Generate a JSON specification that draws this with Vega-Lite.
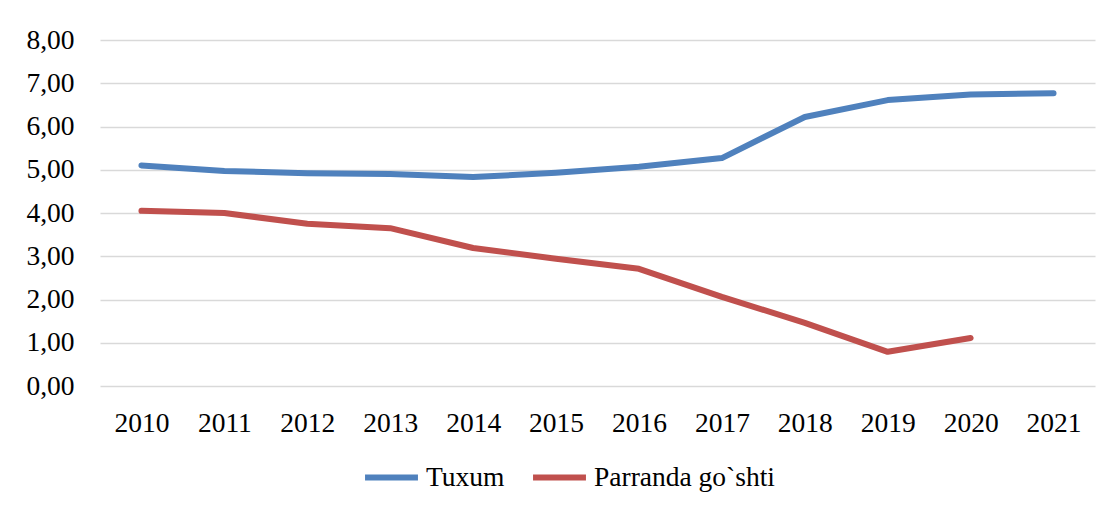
{
  "$schema": "https://vega.github.io/schema/vega-lite/v6.json",
  "width": 995,
  "height": 346,
  "autosize": {"type": "none"},
  "padding": {"left": 100, "top": 40, "right": 15, "bottom": 123},
  "background": "white",
  "config": {
    "view": {"stroke": null},
    "font": "Liberation Serif",
    "axis": {"labelFont": "Liberation Serif", "labelFontSize": 27.5, "labelColor": "#000000"},
    "legend": {"labelFont": "Liberation Serif", "labelFontSize": 27.5, "labelColor": "#000000"}
  },
  "data": {
    "values": [
      {"year": "2010", "series": "Tuxum", "value": 5.10},
      {"year": "2011", "series": "Tuxum", "value": 4.97},
      {"year": "2012", "series": "Tuxum", "value": 4.92},
      {"year": "2013", "series": "Tuxum", "value": 4.90},
      {"year": "2014", "series": "Tuxum", "value": 4.83},
      {"year": "2015", "series": "Tuxum", "value": 4.93},
      {"year": "2016", "series": "Tuxum", "value": 5.07},
      {"year": "2017", "series": "Tuxum", "value": 5.27},
      {"year": "2018", "series": "Tuxum", "value": 6.22},
      {"year": "2019", "series": "Tuxum", "value": 6.61},
      {"year": "2020", "series": "Tuxum", "value": 6.74},
      {"year": "2021", "series": "Tuxum", "value": 6.77},
      {"year": "2010", "series": "Parranda go`shti", "value": 4.05},
      {"year": "2011", "series": "Parranda go`shti", "value": 4.00},
      {"year": "2012", "series": "Parranda go`shti", "value": 3.75},
      {"year": "2013", "series": "Parranda go`shti", "value": 3.65},
      {"year": "2014", "series": "Parranda go`shti", "value": 3.19},
      {"year": "2015", "series": "Parranda go`shti", "value": 2.94},
      {"year": "2016", "series": "Parranda go`shti", "value": 2.71},
      {"year": "2017", "series": "Parranda go`shti", "value": 2.06},
      {"year": "2018", "series": "Parranda go`shti", "value": 1.46},
      {"year": "2019", "series": "Parranda go`shti", "value": 0.79},
      {"year": "2020", "series": "Parranda go`shti", "value": 1.11}
    ]
  },
  "mark": {"type": "line", "strokeWidth": 6, "strokeCap": "round", "strokeJoin": "round"},
  "encoding": {
    "x": {
      "field": "year", "type": "ordinal",
      "scale": {"type": "point", "padding": 0.5},
      "axis": {"title": null, "domain": false, "ticks": false, "labelAngle": 0, "labelPadding": 23, "grid": false, "labelOverlap": false}
    },
    "y": {
      "field": "value", "type": "quantitative",
      "scale": {"domain": [0, 8], "nice": false},
      "axis": {
        "title": null, "domain": false, "ticks": false, "values": [0,1,2,3,4,5,6,7,8],
        "labelPadding": 26, "grid": true, "gridColor": "#D9D9D9", "gridWidth": 1.5, "labelOverlap": false,
        "labelExpr": "replace(format(datum.value, '.2f'), '.', ',')"
      }
    },
    "color": {
      "field": "series", "type": "nominal",
      "scale": {"domain": ["Tuxum", "Parranda go`shti"], "range": ["#4F81BD", "#C0504D"]},
      "legend": {
        "title": null, "orient": "none", "legendX": 262, "legendY": 408, "direction": "horizontal",
        "symbolType": "stroke", "symbolSize": 2800, "symbolStrokeWidth": 6,
        "labelOffset": 5, "columnPadding": 16, "labelLimit": 0
      }
    }
  }
}
